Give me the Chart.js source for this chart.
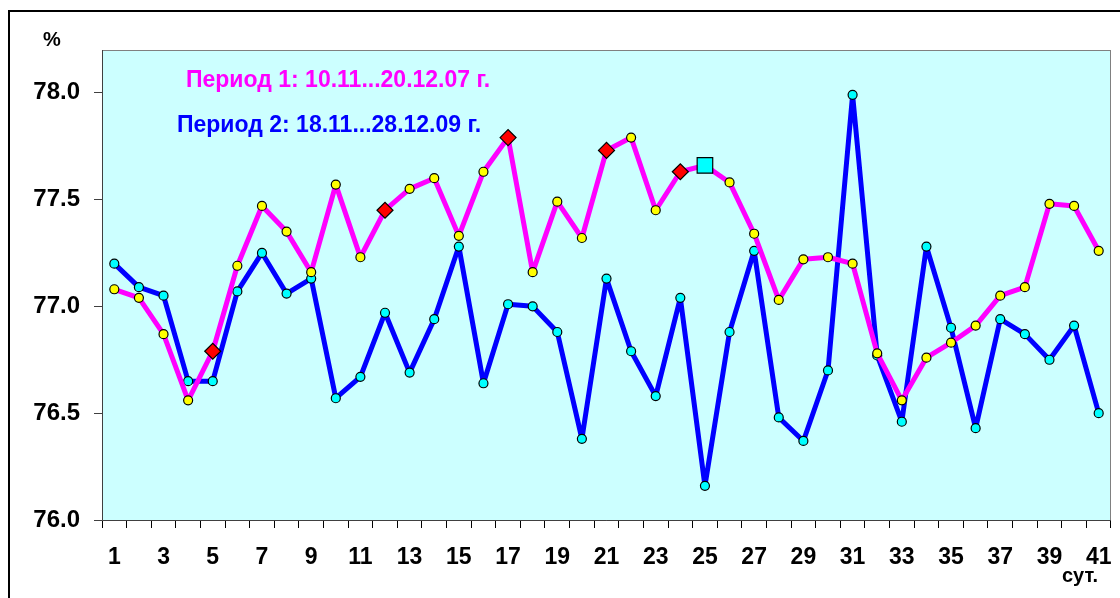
<!DOCTYPE html>
<html>
<head>
<meta charset="utf-8">
<script src="https://cdn.jsdelivr.net/npm/chart.js@4/dist/chart.umd.min.js"></script>
<style>
    html, body { margin: 0; padding: 0; background: #fff; }
    canvas { display: block; }
</style>
</head>
<body>
<canvas id="chart" width="1120" height="598"></canvas>
<script>
    'use strict';

    // days of the period
    const days = [1, 2, 3, 4, 5, 6, 7, 8, 9, 10, 11, 12, 13, 14, 15, 16, 17, 18, 19, 20,
        21, 22, 23, 24, 25, 26, 27, 28, 29, 30, 31, 32, 33, 34, 35, 36, 37, 38, 39, 40, 41];

    // Период 1: 10.11...20.12.07 г.
    const period1 = [77.08, 77.04, 76.87, 76.56, 76.79, 77.19, 77.47, 77.35, 77.16, 77.57,
        77.23, 77.45, 77.55, 77.60, 77.33, 77.63, 77.79, 77.16, 77.49, 77.32,
        77.73, 77.79, 77.45, 77.63, 77.66, 77.58, 77.34, 77.03, 77.22, 77.23,
        77.20, 76.78, 76.56, 76.76, 76.83, 76.91, 77.05, 77.09, 77.48, 77.47, 77.26];

    // Период 2: 18.11...28.12.09 г.
    const period2 = [77.20, 77.09, 77.05, 76.65, 76.65, 77.07, 77.25, 77.06, 77.13, 76.57,
        76.67, 76.97, 76.69, 76.94, 77.28, 76.64, 77.01, 77.00, 76.88, 76.38,
        77.13, 76.79, 76.58, 77.04, 76.16, 76.88, 77.26, 76.48, 76.37, 76.70,
        77.99, 76.77, 76.46, 77.28, 76.90, 76.43, 76.94, 76.87, 76.75, 76.91, 76.50];

    // highlighted days of period 1
    const diamondDays = [5, 12, 17, 21, 24];
    const squareDays = [25];

    const yTicks = [76.0, 76.5, 77.0, 77.5, 78.0];
    const yMin = 76.0;
    const yMax = 78.2;

    const label1 = 'Период 1: 10.11...20.12.07 г.';
    const label2 = 'Период 2: 18.11...28.12.09 г.';
    const yUnit = '%';
    const xUnit = 'сут.';

    const FONT = "'Liberation Sans', Arial, sans-serif";

    function styleFor(day, circle, diamond, square) {
        if (diamondDays.includes(day)) return diamond;
        if (squareDays.includes(day)) return square;
        return circle;
    }

    const frame = {
        id: 'frame',
        beforeDraw: function(chart) {
            const ctx = chart.ctx;
            const a = chart.chartArea;
            ctx.save();
            ctx.fillStyle = '#ffffff';
            ctx.fillRect(0, 0, chart.width, chart.height);
            ctx.strokeStyle = '#000000';
            ctx.lineWidth = 2;
            ctx.strokeRect(9, 11, chart.width + 20, chart.height + 20);
            ctx.fillStyle = '#ccffff';
            ctx.fillRect(a.left, a.top, a.right - a.left, a.bottom - a.top);
            ctx.restore();
        },
        afterDraw: function(chart) {
            const ctx = chart.ctx;
            const a = chart.chartArea;
            ctx.save();
            ctx.strokeStyle = '#808080';
            ctx.lineWidth = 1;
            ctx.strokeRect(a.left + 0.5, a.top + 0.5, a.right - a.left - 1, a.bottom - a.top);
            ctx.strokeStyle = '#404040';
            ctx.beginPath();
            ctx.moveTo(a.left + 0.5, a.top);
            ctx.lineTo(a.left + 0.5, a.bottom + 0.5);
            ctx.lineTo(a.right, a.bottom + 0.5);
            ctx.stroke();

            ctx.textBaseline = 'alphabetic';
            ctx.font = 'bold 23px ' + FONT;
            ctx.textAlign = 'left';
            ctx.fillStyle = '#ff00ff';
            ctx.fillText(label1, 186, 87);
            ctx.fillStyle = '#0000ff';
            ctx.fillText(label2, 177, 132);

            ctx.fillStyle = '#000000';
            ctx.textAlign = 'center';
            ctx.font = 'bold 20px ' + FONT;
            ctx.fillText(yUnit, 52, 46);
            ctx.fillText(xUnit, 1080, 582);
            ctx.restore();
        }
    };

    new Chart(document.getElementById('chart'), {
        type: 'line',
        data: {
            labels: days,
            datasets: [
                {
                    label: label1,
                    data: period1,
                    borderColor: '#ff00ff',
                    borderWidth: 5,
                    borderJoinStyle: 'round',
                    tension: 0,
                    pointStyle: days.map(d => styleFor(d, 'circle', 'rectRot', 'rect')),
                    pointRadius: days.map(d => styleFor(d, 4.5, 8, 11)),
                    pointBackgroundColor: days.map(d => styleFor(d, '#ffff00', '#ff0000', '#00ffff')),
                    pointBorderColor: '#000000',
                    pointBorderWidth: 1.2
                },
                {
                    label: label2,
                    data: period2,
                    borderColor: '#0000ff',
                    borderWidth: 5,
                    borderJoinStyle: 'round',
                    tension: 0,
                    pointStyle: 'circle',
                    pointRadius: 4.5,
                    pointBackgroundColor: '#00ffff',
                    pointBorderColor: '#000000',
                    pointBorderWidth: 1.2
                }
            ]
        },
        options: {
            responsive: false,
            animation: false,
            events: [],
            layout: { padding: { top: 50, right: 9, left: 0, bottom: 0 } },
            plugins: {
                legend: { display: false },
                tooltip: { enabled: false }
            },
            scales: {
                x: {
                    type: 'category',
                    offset: true,
                    afterFit: function(s) {
                        s.height = 78;
                        s.paddingLeft = 0;
                        s.paddingRight = 0;
                    },
                    border: { display: false },
                    grid: {
                        offset: true,
                        drawOnChartArea: false,
                        drawTicks: true,
                        tickLength: 8,
                        color: '#000000',
                        lineWidth: 1
                    },
                    ticks: {
                        autoSkip: false,
                        maxRotation: 0,
                        padding: 16,
                        color: '#000000',
                        font: { family: FONT, size: 23, weight: 'bold' },
                        callback: function(v, i) { return i % 2 === 0 ? String(days[i]) : ''; }
                    }
                },
                y: {
                    min: yMin,
                    max: yMax,
                    afterFit: function(s) {
                        s.width = 102;
                        s.paddingTop = 0;
                        s.paddingBottom = 0;
                    },
                    afterBuildTicks: function(s) {
                        s.ticks = yTicks.map(v => ({ value: v }));
                    },
                    border: { display: false },
                    grid: {
                        drawOnChartArea: false,
                        drawTicks: true,
                        tickLength: 8,
                        color: '#404040',
                        lineWidth: 1
                    },
                    ticks: {
                        padding: 14,
                        color: '#000000',
                        font: { family: FONT, size: 24, weight: 'bold' },
                        callback: function(v) { return Number(v).toFixed(1); }
                    }
                }
            }
        },
        plugins: [frame]
    });
</script>
</body>
</html>
